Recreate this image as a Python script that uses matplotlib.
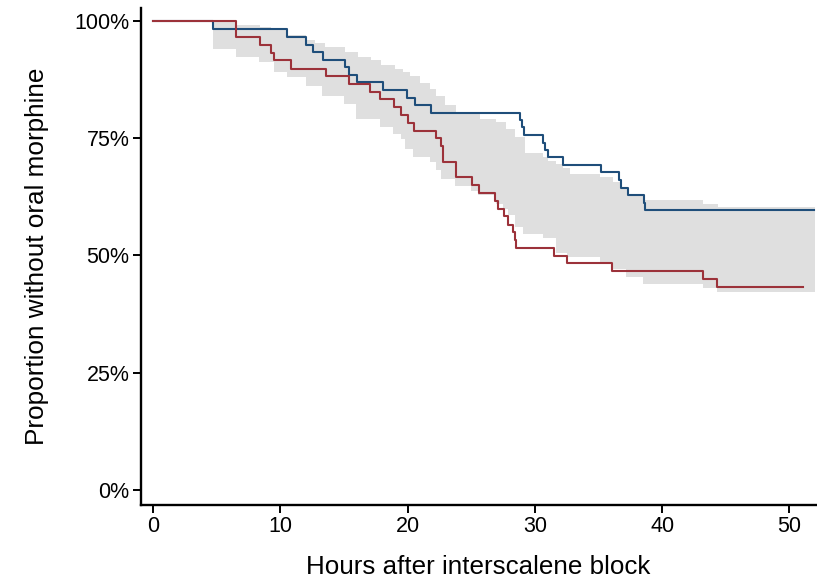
import numpy as np
import matplotlib
matplotlib.use("Agg")
import matplotlib.pyplot as plt
from matplotlib.ticker import FuncFormatter

# ---- data ----
blue_t = [0, 4.69, 10.54, 12.03, 12.56, 13.34, 15.05, 15.39, 16.02, 18.06, 19.95, 20.55, 21.81,
          28.8, 29.0, 29.15, 30.64, 30.82, 31.03, 32.2, 35.15, 36.59, 36.77, 37.3, 38.58, 38.66]
blue_s = [100, 98.1, 96.5, 94.9, 93.3, 91.7, 90.1, 88.5, 86.9, 85.2, 83.6, 82.0, 80.4,
          78.9, 77.3, 75.7, 74.0, 72.4, 70.9, 69.2, 67.7, 66.0, 64.4, 62.8, 61.1, 59.6]
blue_end = 51.9

red_t = [0, 6.48, 8.37, 9.28, 9.47, 10.86, 13.55, 15.36, 17.0, 17.8, 18.93, 19.5, 20.02, 20.47,
         22.25, 22.65, 22.8, 23.78, 25.05, 25.58, 26.84, 27.13, 27.55, 27.9, 28.3, 28.4, 28.49,
         31.5, 32.55, 36.06, 43.2, 44.27]
red_s = [100, 96.5, 94.8, 93.1, 91.5, 89.7, 88.2, 86.5, 84.8, 83.2, 81.6, 79.9, 78.2, 76.5,
         74.9, 73.3, 69.8, 66.6, 64.9, 63.2, 61.6, 59.9, 58.3, 56.5, 55.0, 53.2, 51.6,
         49.9, 48.3, 46.6, 44.9, 43.3]
red_end = 51.08

band_up_t = [4.69, 6.48, 8.37, 9.28, 10.57, 12.04, 12.69, 13.47, 15.05, 16.09, 17.15, 17.93,
             18.98, 19.63, 20.16, 20.94, 21.73, 22.26, 22.91, 23.83, 25.66, 26.97, 27.76, 28.41,
             29.2, 30.61, 31.0, 31.63, 32.19, 32.74, 35.09, 36.14, 36.67, 37.3, 38.48, 43.19, 44.37]
band_up = [100, 99.1, 98.7, 98.3, 97.0, 95.9, 95.3, 94.3, 93.3, 92.2, 91.5, 90.6,
           89.7, 89.0, 88.1, 86.6, 85.5, 84.0, 82.1, 80.2, 79.1, 78.3, 77.0, 75.1,
           71.9, 70.9, 70.0, 69.4, 68.5, 67.4, 66.6, 65.6, 64.5, 63.1, 61.7, 61.0, 60.3]
band_lo_t = [4.69, 6.48, 8.31, 9.47, 10.51, 11.98, 13.29, 14.97, 15.97, 17.8, 18.84, 19.5,
             19.76, 20.42, 21.73, 22.26, 22.65, 23.69, 25.0, 25.53, 26.97, 27.49, 27.89, 28.41,
             29.07, 30.64, 31.69, 32.48, 35.1, 36.14, 37.19, 38.48, 43.19, 44.29]
band_lo = [94.0, 92.2, 91.1, 89.0, 87.9, 86.0, 84.0, 82.3, 79.1, 77.3, 75.9, 74.8,
           72.7, 70.9, 69.9, 68.2, 66.3, 64.7, 63.8, 62.8, 61.0, 59.9, 58.5, 56.0,
           54.6, 53.6, 50.4, 49.6, 48.6, 47.2, 45.4, 43.8, 43.1, 42.2]
band_end = 52.0

x_ticks = [0, 10, 20, 30, 40, 50]
y_ticks = [0, 25, 50, 75, 100]
x_label = "Hours after interscalene block"
y_label = "Proportion without oral morphine"

BLUE = "#1f4e7a"
RED = "#9c323a"
BAND = "#dfdfdf"

plt.rcParams['font.family'] = ['Liberation Sans', 'DejaVu Sans']

fig = plt.figure(figsize=(8.17, 5.84), dpi=100)
ax = fig.add_axes([0.172, 0.135, 0.827, 0.851])

# band: evaluate both step edges on a common time grid
grid = np.unique(np.concatenate([band_up_t, band_lo_t, [band_end]]))
up_idx = np.searchsorted(band_up_t, grid, side='right') - 1
lo_idx = np.searchsorted(band_lo_t, grid, side='right') - 1
up_vals = np.array(band_up)[np.clip(up_idx, 0, None)]
lo_vals = np.array(band_lo)[np.clip(lo_idx, 0, None)]
ax.fill_between(grid, lo_vals, up_vals, step='post', color=BAND, linewidth=0, zorder=1)

def step_line(t, s, end, color):
    tt = list(t) + [end]
    ss = list(s) + [s[-1]]
    ax.step(tt, ss, where='post', color=color, lw=1.5, zorder=3)

step_line(blue_t, blue_s, blue_end, BLUE)
step_line(red_t, red_s, red_end, RED)

ax.set_xlim(-1.0, 52.1)
ax.set_ylim(-3.2, 102.64)
ax.set_xticks(x_ticks)
ax.set_yticks(y_ticks)
ax.yaxis.set_major_formatter(FuncFormatter(lambda v, p: f"{int(v)}%"))

for side in ['top', 'right']:
    ax.spines[side].set_visible(False)
for side in ['left', 'bottom']:
    ax.spines[side].set_linewidth(1.7)
ax.tick_params(axis='both', direction='out', length=6, width=1.4, labelsize=15.5, pad=2)

ax.set_xlabel(x_label, fontsize=18.7, labelpad=13)
ax.set_ylabel(y_label, fontsize=18.8, labelpad=18)

fig.savefig("out.png", dpi=100)
